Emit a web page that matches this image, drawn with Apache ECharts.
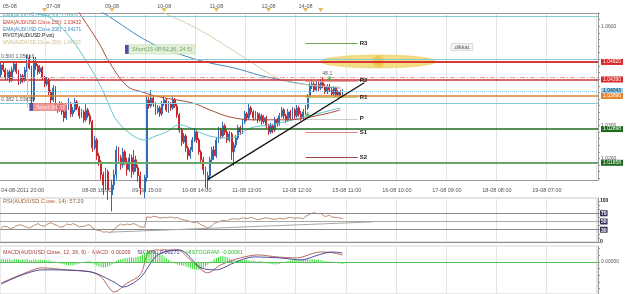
<!DOCTYPE html>
<html>
<head>
<meta charset="utf-8">
<script src="https://cdn.jsdelivr.net/npm/echarts@6/dist/echarts.min.js"></script>
<style>
  html, body { margin: 0; padding: 0; background: #fff; }
  #main { width: 625px; height: 294px; }
</style>
</head>
<body>
<div id="main"></div>
<script>
// hourly slots, slot 0 = 04-08-2011 20:00
const slotCount = 275;
const bottomLabels = {0: '04-08-2011 20:00', 44: '08-08 16:00', 67: '09-08 15:00', 90: '10-08 14:00',
  113: '11-08 13:00', 136: '12-08 12:00', 159: '15-08 11:00', 182: '16-08 10:00',
  205: '17-08 09:00', 228: '18-08 08:00', 251: '19-08 07:00'};
const dayLabels = {4: '05-08', 24: '07-08', 51: '09-08', 75: '10-08', 99: '11-08', 123: '12-08', 140: '14-08'};
const dayMarks = [20, 51, 75, 99, 123, 140, 147];

// AUD/USD hourly candles (open = previous close)
const firstOpen = 1.0453;
const closes = [
  1.0483,1.0468,1.0444,1.0462,1.0438,1.0468,1.0486,1.0462,1.0432,1.0450,
  1.0438,1.0468,1.0504,1.0474,1.0377,1.0492,1.0480,1.0462,1.0474,1.0444,
  1.0425,1.0438,1.0401,1.0377,1.0413,1.0359,1.0347,1.0365,1.0341,1.0323,
  1.0353,1.0365,1.0335,1.0347,1.0371,1.0353,1.0329,1.0341,1.0317,1.0347,
  1.0329,1.0311,1.0232,1.0256,1.0208,1.0190,1.0151,1.0120,1.0160,1.0105,
  1.0090,1.0120,1.0151,1.0226,1.0202,1.0181,1.0220,1.0190,1.0166,1.0202,
  1.0160,1.0196,1.0172,1.0148,1.0111,1.0099,1.0142,1.0377,1.0359,1.0383,
  1.0365,1.0341,1.0353,1.0335,1.0365,1.0377,1.0347,1.0365,1.0353,1.0377,
  1.0359,1.0332,1.0286,1.0250,1.0268,1.0232,1.0208,1.0226,1.0256,1.0280,
  1.0256,1.0220,1.0196,1.0166,1.0136,1.0148,1.0196,1.0226,1.0208,1.0256,
  1.0286,1.0268,1.0299,1.0280,1.0256,1.0274,1.0220,1.0241,1.0262,1.0293,
  1.0280,1.0311,1.0335,1.0323,1.0353,1.0341,1.0323,1.0335,1.0317,1.0329,
  1.0311,1.0323,1.0299,1.0280,1.0299,1.0286,1.0317,1.0305,1.0329,1.0347,
  1.0329,1.0317,1.0341,1.0323,1.0347,1.0329,1.0353,1.0335,1.0323,1.0341,
  1.0353,1.0389,1.0419,1.0425,1.0407,1.0425,1.0413,1.0429,1.0419,1.0401,
  1.0419,1.0407,1.0395,1.0413,1.0392,1.0401,1.0389,1.0404
];
const highs = [
  1.0492,1.0489,1.0474,1.0468,1.0468,1.0477,1.0492,1.0492,1.0468,1.0456,
  1.0456,1.0477,1.0513,1.0513,1.0480,1.0507,1.0507,1.0486,1.0483,1.0480,
  1.0450,1.0447,1.0444,1.0407,1.0422,1.0419,1.0365,1.0374,1.0371,1.0347,
  1.0362,1.0383,1.0371,1.0356,1.0383,1.0377,1.0359,1.0350,1.0347,1.0368,
  1.0353,1.0338,1.0317,1.0268,1.0262,1.0217,1.0196,1.0160,1.0172,1.0166,
  1.0130,1.0136,1.0166,1.0238,1.0235,1.0211,1.0232,1.0226,1.0202,1.0214,
  1.0211,1.0226,1.0208,1.0181,1.0160,1.0130,1.0151,1.0389,1.0386,1.0407,
  1.0389,1.0371,1.0362,1.0359,1.0374,1.0389,1.0383,1.0374,1.0371,1.0386,
  1.0383,1.0365,1.0338,1.0293,1.0277,1.0274,1.0238,1.0235,1.0265,1.0293,
  1.0286,1.0262,1.0226,1.0205,1.0175,1.0160,1.0205,1.0235,1.0238,1.0265,
  1.0296,1.0293,1.0311,1.0305,1.0286,1.0283,1.0280,1.0250,1.0271,1.0302,
  1.0299,1.0320,1.0344,1.0341,1.0365,1.0359,1.0347,1.0344,1.0341,1.0338,
  1.0335,1.0332,1.0329,1.0305,1.0308,1.0305,1.0326,1.0323,1.0338,1.0356,
  1.0353,1.0335,1.0350,1.0347,1.0356,1.0353,1.0362,1.0359,1.0344,1.0350,
  1.0362,1.0395,1.0429,1.0438,1.0432,1.0435,1.0432,1.0438,1.0447,1.0425,
  1.0425,1.0425,1.0413,1.0419,1.0416,1.0407,1.0407,1.0410
];
const lows = [
  1.0444,1.0462,1.0438,1.0438,1.0429,1.0432,1.0462,1.0456,1.0422,1.0425,
  1.0429,1.0432,1.0462,1.0468,1.0365,1.0371,1.0468,1.0453,1.0456,1.0438,
  1.0416,1.0419,1.0392,1.0368,1.0371,1.0350,1.0338,1.0341,1.0332,1.0311,
  1.0317,1.0347,1.0326,1.0326,1.0341,1.0347,1.0320,1.0323,1.0308,1.0311,
  1.0323,1.0302,1.0220,1.0226,1.0196,1.0178,1.0136,1.0090,1.0105,1.0075,
  1.0030,1.0040,1.0105,1.0136,1.0190,1.0166,1.0172,1.0181,1.0148,1.0160,
  1.0142,1.0151,1.0160,1.0130,1.0090,1.0060,1.0080,1.0130,1.0350,1.0353,
  1.0356,1.0332,1.0335,1.0326,1.0329,1.0359,1.0341,1.0338,1.0344,1.0347,
  1.0353,1.0323,1.0277,1.0238,1.0244,1.0220,1.0196,1.0199,1.0220,1.0250,
  1.0247,1.0211,1.0184,1.0151,1.0111,1.0105,1.0136,1.0187,1.0196,1.0202,
  1.0247,1.0259,1.0262,1.0271,1.0247,1.0250,1.0196,1.0178,1.0232,1.0256,
  1.0271,1.0274,1.0305,1.0314,1.0317,1.0332,1.0314,1.0317,1.0308,1.0311,
  1.0302,1.0305,1.0290,1.0271,1.0274,1.0277,1.0280,1.0296,1.0299,1.0323,
  1.0320,1.0308,1.0311,1.0314,1.0317,1.0320,1.0323,1.0326,1.0314,1.0317,
  1.0332,1.0347,1.0383,1.0410,1.0401,1.0401,1.0404,1.0407,1.0413,1.0395,
  1.0395,1.0401,1.0389,1.0389,1.0386,1.0386,1.0383,1.0386
];

// moving averages [slot, price]
const ema50 = [[8,1.0665],[15,1.0640],[22,1.0628],[30,1.0580],[38,1.0507],[46,1.0416],[50,1.0356],[53,1.0317],
  [59,1.0277],[66,1.0256],[71,1.0268],[76,1.0280],[82,1.0302],[87,1.0293],[92,1.0277],[98,1.0265],
  [105,1.0262],[115,1.0293],[124,1.0302],[138,1.0323],[147,1.0338],[156,1.0353]];
const ema100 = [[30,1.0700],[36,1.0640],[45,1.0549],[50,1.0489],[58,1.0419],[65,1.0401],[73,1.0386],[88,1.0368],
  [96,1.0347],[105,1.0326],[116,1.0317],[132,1.0317],[147,1.0332],[156,1.0347]];
const ema200 = [[38,1.0670],[47,1.0640],[69,1.0549],[86,1.0507],[96,1.0489],[107,1.0474],[122,1.0447],[142,1.0422],[156,1.0413]];
const mva200 = [[66,1.0665],[75,1.0640],[92,1.0586],[110,1.0513],[127,1.0444],[138,1.0425],[156,1.0416]];

// RSI(14) [slot, value]
const rsi = [[0,34],[1,38],[3,37],[4,33],[6,35],[7,40],[9,42],[11,38],[12,36],[13,34],[15,40],[17,45],[18,41],
  [20,38],[21,43],[23,47],[24,44],[26,40],[27,36],[29,38],[30,44],[32,42],[33,45],[35,40],[36,37],[38,38],
  [40,42],[41,41],[42,34],[44,29],[46,27],[47,24],[49,25],[50,22],[52,30],[53,37],[55,44],[56,41],[58,44],
  [59,42],[61,45],[63,40],[64,37],[66,36],[67,61],[69,60],[70,63],[72,61],[73,58],[75,60],[76,59],[78,61],
  [80,58],[81,60],[83,55],[85,53],[87,50],[89,47],[90,49],[92,42],[94,37],[95,34],[97,40],[98,46],[100,49],
  [102,53],[104,51],[105,55],[107,57],[109,55],[111,59],[113,57],[115,60],[117,56],[118,54],[120,57],
  [122,59],[124,57],[126,55],[128,58],[130,56],[131,58],[133,60],[135,58],[137,59],[139,57],[140,62],
  [142,68],[144,72],[145,69],[147,70],[149,62],[151,65],[152,61],[154,60],[156,58],[157,57.29]];
const rsiLevels = [30, 50, 70];

// MACD(12,26,9)
const macd = [[0,-0.0064],[9,-0.0039],[19,-0.0018],[30,-0.0024],[41,-0.0030],[46,-0.0045],[52,-0.0091],
  [58,-0.0064],[64,-0.0039],[68,0.0030],[73,0.0036],[81,0.0036],[88,0.0000],[95,-0.0033],[101,-0.0009],
  [110,0.0012],[118,0.0021],[127,0.0015],[136,0.0012],[144,0.0027],[147,0.0030],[152,0.0028],[157,0.0021]];
const signal = [[0,-0.0067],[19,-0.0024],[41,-0.0030],[52,-0.0061],[56,-0.0076],[64,-0.0048],[72,0.0021],
  [82,0.0036],[92,-0.0018],[99,-0.0024],[107,-0.0003],[116,0.0015],[128,0.0012],[138,0.0006],[146,0.0021],
  [152,0.0030],[157,0.0027]];
const histogram = [
  0.0008,0.0009,0.0007,0.0008,0.0009,0.0006,0.0008,0.0009,0.0007,0.0006,
  0.0008,0.0007,0.0009,0.0006,0.0005,0.0007,0.0008,0.0006,0.0007,0.0005,
  0.0006,0.0004,0.0005,0.0003,0.0002,0.0001,-0.0002,-0.0004,-0.0006,-0.0008,
  -0.0009,-0.0010,-0.0011,-0.0010,-0.0009,-0.0007,-0.0005,-0.0003,-0.0001,0.0002,
  0.0003,0.0002,-0.0004,-0.0008,-0.0011,-0.0014,-0.0016,-0.0018,-0.0017,-0.0015,
  -0.0012,-0.0008,-0.0003,0.0003,0.0006,0.0008,0.0010,0.0012,0.0011,0.0013,
  0.0014,0.0012,0.0015,0.0016,0.0018,0.0022,0.0026,0.0031,0.0034,0.0036,
  0.0035,0.0033,0.0030,0.0026,0.0021,0.0016,0.0011,0.0006,0.0002,-0.0002,
  -0.0005,-0.0008,-0.0010,-0.0011,-0.0012,-0.0014,-0.0016,-0.0019,-0.0021,-0.0023,
  -0.0024,-0.0023,-0.0021,-0.0018,-0.0014,-0.0009,-0.0004,0.0002,0.0008,0.0012,
  0.0015,0.0017,0.0018,0.0016,0.0013,0.0010,0.0007,0.0005,0.0004,0.0006,
  0.0005,0.0004,0.0006,0.0007,0.0005,0.0003,0.0004,0.0002,0.0001,0.0003,
  0.0002,-0.0001,-0.0003,-0.0005,-0.0006,-0.0007,-0.0008,-0.0007,-0.0006,-0.0004,
  -0.0002,0.0001,0.0003,0.0004,0.0005,0.0006,0.0005,0.0007,0.0006,0.0008,
  0.0009,0.0008,0.0007,0.0009,0.0008,0.0006,0.0007,0.0005,0.0004,0.0003,
  0.0002,0.0001,-0.0001,-0.0002,-0.0003,-0.0004,-0.0005,-0.0006
];

// horizontal levels: [price, label, color, width, type, labelBg, labelColor]
const levels = [
  [1.0631, '', '#86cbd3', 1, 'solid'],
  [1.0499, '', '#86cbd3', 1, 'solid'],
  [1.0492, '1.04920', '#d63a33', 2, 'solid', '#d8282c', '#fff'],
  [1.0447, '', '#e6a0a0', 1, [5, 2, 1, 2]],
  [1.0439, '1.04390', '#c93232', 1.5, 'solid', '#d8282c', '#fff'],
  [1.04043, '1.04043', '#8cc4e6', 1, 'dotted', '#92d3f2', '#123'],
  [1.0389, '1.03890', '#d9822f', 1.5, 'solid', '#e8852c', '#fff'],
  [1.0366, '', '#86cbd3', 1, 'solid'],
  [1.0289, '1.02898', '#1f6a1f', 1.5, 'solid', '#1f6a1f', '#fff'],
  [1.0187, '1.01858', '#69a869', 2, 'solid', '#1f6a1f', '#fff']
];
// pivot levels for the current day: [name, price, color]
const pivotStart = 140, pivotEnd = 164;
const pivots = [['R3', 1.0549, '#6aaa55'], ['R2', 1.0435, '#e8a0a0'], ['R1', 1.0386, '#b9cc6a'],
  ['P', 1.0320, '#cccccc'], ['S1', 1.0280, '#e08080'], ['S2', 1.0205, '#a04545']];
const trendLine = [[95, 1.0136], [167, 1.0429]];
const fibVertical = [[12, 1.0513], [12, 1.0353]];
const highlightBox = [147, 200, 1.0513, 1.0474];
const rsiTrend = [[50, 24], [171, 49]];

const legendLines = [
  ['EMA(AUD/USD.Close,50): 1.03932', '#3aa6b2'],
  ['EMA(AUD/USD.Close,100): 1.03432', '#c0392b'],
  ['EMA(AUD/USD.Close,200): 1.04171', '#3a85c0'],
  ['PIVOT(AUD/USD,Pivot)', '#111'],
  ['MVA(AUD/USD.Close,200): 1.04163', '#c9bd86']
];

const slots = Array.from({length: slotCount}, (_, i) => String(i));
const candles = closes.map((c, i) => [i ? closes[i - 1] : firstOpen, c, lows[i], highs[i]]);
const gridLine = i => i >= 21 && (i - 21) % 23 === 0;
const priceTicks = Array.from({length: 26}, (_, k) => +(1.014 + k * 0.002).toFixed(3));

const chart = echarts.init(document.getElementById('main'));

const levelLines = levels.map(l => ({
  yAxis: l[0],
  lineStyle: {color: l[2], width: l[3], type: l[4]},
  label: l[1] ? {show: true, position: 'end', distance: 3, formatter: l[1], fontSize: 5,
    color: l[6], backgroundColor: l[5], padding: [1, 2, 0, 2]} : {show: false}
}));
const pivotLines = pivots.map(p => [
  {coord: [pivotStart, p[1]], lineStyle: {color: p[2], width: 1.2, type: 'solid'},
    label: {show: true, position: 'end', distance: 2, formatter: p[0], fontSize: 6, fontWeight: 'bold',
      color: '#222', padding: [6, 0, 0, 0]}},
  {coord: [pivotEnd, p[1]]}
]);

const maSeries = (data, color) => ({
  type: 'line', xAxisIndex: 0, yAxisIndex: 0, data: data, smooth: 0.4, showSymbol: false,
  lineStyle: {color: color, width: 1}, z: 3, silent: true
});

const option = {
  animation: false,
  textStyle: {fontFamily: 'Liberation Sans'},
  grid: [
    {left: 0, right: 27, top: 13, height: 167, outerBoundsMode: 'none'},
    {left: 0, right: 27, top: 198, height: 44, show: true, borderColor: '#c8c8c8', borderWidth: 1, outerBoundsMode: 'none'},
    {left: 0, right: 27, top: 246, height: 48, show: true, borderColor: '#d8d8d8', borderWidth: 1, outerBoundsMode: 'none'}
  ],
  xAxis: [
    {type: 'category', gridIndex: 0, data: slots, boundaryGap: true,
      axisLine: {lineStyle: {color: '#999'}},
      axisTick: {interval: 4, length: 2, lineStyle: {color: '#999'}},
      axisLabel: {interval: i => bottomLabels[i] !== undefined, formatter: (v, i) => bottomLabels[i],
        fontSize: 5.5, color: '#555', margin: 7, alignMinLabel: 'left'},
      splitLine: {show: true, interval: gridLine, lineStyle: {color: '#e4e4e4'}}},
    {type: 'category', gridIndex: 0, data: slots, position: 'top', boundaryGap: true,
      axisLine: {lineStyle: {color: '#999'}},
      axisTick: {interval: 4, length: 3, lineStyle: {color: '#999'}},
      axisLabel: {interval: i => dayLabels[i] !== undefined, formatter: (v, i) => dayLabels[i],
        fontSize: 5.5, color: '#555', margin: 4},
      splitLine: {show: false}},
    {type: 'category', gridIndex: 1, data: slots, axisLine: {show: false}, axisTick: {show: false},
      axisLabel: {show: false}, splitLine: {show: true, interval: gridLine, lineStyle: {color: '#e4e4e4'}}},
    {type: 'category', gridIndex: 2, data: slots, axisLine: {show: false}, axisTick: {show: false},
      axisLabel: {show: false}, splitLine: {show: true, interval: gridLine, lineStyle: {color: '#e4e4e4'}}}
  ],
  yAxis: [
    {type: 'value', gridIndex: 0, position: 'right', min: 1.0135, max: 1.064, scale: true,
      axisLine: {show: true, lineStyle: {color: '#999'}},
      axisTick: {show: true, length: 2, customValues: priceTicks, lineStyle: {color: '#999'}},
      axisLabel: {customValues: [1.02, 1.03, 1.06], formatter: v => v.toFixed(4), fontSize: 5, color: '#555', margin: 3},
      splitLine: {show: false}},
    {type: 'value', gridIndex: 1, position: 'right', min: 0, max: 107.3,
      axisLine: {show: true, lineStyle: {color: '#999'}},
      axisTick: {show: true, length: 2, customValues: [0, 10, 20, 30, 40, 50, 60, 70, 80, 90, 100], lineStyle: {color: '#999'}},
      axisLabel: {customValues: [0, 30, 50, 70, 100], fontSize: 5, margin: 2, fontWeight: 'bold',
        formatter: v => rsiLevels.includes(v) ? '{b|' + v + '}' : '{n|' + v + '}',
        rich: {b: {backgroundColor: '#34345a', color: '#fff', fontSize: 5, padding: [1, 1, 0, 1], fontWeight: 'bold'},
          n: {color: '#222', fontSize: 5, fontWeight: 'bold'}}},
      splitLine: {show: false}},
    {type: 'value', gridIndex: 2, position: 'right', min: -0.0097, max: 0.0048,
      axisLine: {show: true, lineStyle: {color: '#999'}},
      axisTick: {show: true, length: 2, customValues: [-0.008, -0.006, -0.004, -0.002, 0, 0.002, 0.004], lineStyle: {color: '#999'}},
      axisLabel: {customValues: [0], formatter: v => v.toFixed(5), fontSize: 5, color: '#555', margin: 3},
      splitLine: {show: false}}
  ],
  graphic: legendLines.map((l, i) => ({
    type: 'text', left: 3, top: 13.5 + i * 6.7, silent: true,
    style: {text: l[0], fill: l[1], font: '4.8px "Liberation Sans"'}
  })).concat([
    {type: 'text', left: 3, top: 198.5, silent: true,
      style: {text: 'RSI(AUD/USD.Close, 14): 57.29', fill: '#a0603a', font: '5.6px "Liberation Sans"'}},
    {type: 'text', left: 3, top: 247, silent: true,
      style: {text: '{a|MACD(AUD/USD.Close, 12, 26, 9) -  MACD: 0.00209}  {b|SIGNAL: 0.00271}  {c|HISTOGRAM: -0.00061}',
        rich: {a: {fill: '#a0403a', font: '5.4px "Liberation Sans"'}, b: {fill: '#303080', font: '5.4px "Liberation Sans"'},
          c: {fill: '#33bb33', font: '5.4px "Liberation Sans"'}}}}
  ]),
  series: [
    {type: 'custom', xAxisIndex: 0, yAxisIndex: 0, z: 1, silent: true, data: [highlightBox],
      renderItem: (params, api) => {
        const a = api.coord([api.value(0), api.value(2)]);
        const b = api.coord([api.value(1), api.value(3)]);
        return {type: 'ellipse',
          shape: {cx: (a[0] + b[0]) / 2, cy: (a[1] + b[1]) / 2, rx: (b[0] - a[0]) / 2, ry: (b[1] - a[1]) / 2},
          style: {fill: new echarts.graphic.RadialGradient(0.5, 0.5, 0.5,
            [{offset: 0, color: '#eabb2e'}, {offset: 0.75, color: '#efcb55'}, {offset: 1, color: '#f4dc86'}]),
            stroke: '#e8c650', lineWidth: 0.5}};
      }},
    {type: 'candlestick', xAxisIndex: 0, yAxisIndex: 0, data: candles, barWidth: 1.4, clip: true,
      itemStyle: {color: '#2f6db5', color0: '#c8282b', borderColor: '#2f6db5', borderColor0: '#c8282b', borderWidth: 1},
      markLine: {symbol: ['none', 'none'], silent: true, precision: 6, label: {show: false},
        data: levelLines.concat(pivotLines).concat([
          [{coord: trendLine[0], lineStyle: {color: '#111', width: 1.3, type: 'solid'}}, {coord: trendLine[1]}],
          [{coord: fibVertical[0], lineStyle: {color: '#f0b4b4', width: 1, type: 'solid'}}, {coord: fibVertical[1]}]
        ])}},
    maSeries(ema50, '#5ec2cc'),
    maSeries(ema100, '#a84a3c'),
    maSeries(ema200, '#3e8ac4'),
    maSeries(mva200, '#d6cda4'),
    {type: 'scatter', xAxisIndex: 0, yAxisIndex: 0, clip: false, silent: true, z: 5,
      symbol: 'triangle', symbolRotate: 180, symbolSize: [5, 4], symbolOffset: [0, -3],
      itemStyle: {color: '#e6a030'}, data: dayMarks.map(s => [s, 1.064])},
    {type: 'scatter', xAxisIndex: 0, yAxisIndex: 0, clip: false, silent: true, z: 6,
      symbol: 'triangle', symbolSize: 5, itemStyle: {color: '#4cb03a'},
      data: [[151, 1.0444], [141, 1.0335]]},
    {type: 'scatter', xAxisIndex: 0, yAxisIndex: 0, clip: false, silent: true, z: 7, symbolSize: 0,
      label: {show: true, fontSize: 5, color: '#333'},
      data: [
        {value: [13, 1.0356], label: {position: 'right', distance: 0, formatter: '{sq|}{t|Stop(-34.3)}',
          rich: {sq: {width: 4, height: 8, backgroundColor: '#23238c'},
            t: {backgroundColor: '#f07c7c', color: '#fff', padding: [1, 3, 0, 3], fontSize: 5.5, height: 7}}}},
        {value: [57, 1.0530], label: {position: 'right', distance: 0, formatter: '{sq|}{t|Short(15-08 02:36, 24.5)}',
          rich: {sq: {width: 4, height: 9, backgroundColor: '#23238c'},
            t: {backgroundColor: '#d9eecb', color: '#5f8a55', padding: [1, 3, 0, 3], fontSize: 5.5, height: 8,
              borderColor: '#bcd9ac', borderWidth: 0.5}}}},
        {value: [207, 1.0537], label: {position: 'right', distance: 0, formatter: '.dikkat.',
          backgroundColor: '#efefef', borderColor: '#c4c4c4', borderWidth: 0.5, padding: [1, 2, 0, 2], fontSize: 5.5}},
        {value: [0, 1.0507], label: {position: 'right', distance: 0, formatter: '0.500 1.05016', fontSize: 5.2}},
        {value: [0, 1.0377], label: {position: 'right', distance: 0, formatter: '0.382 1.03658', fontSize: 5.2}},
        {value: [150, 1.0458], label: {position: 'inside', formatter: '48.1', fontSize: 5.2}}
      ]},
    {type: 'line', xAxisIndex: 2, yAxisIndex: 1, data: rsi, showSymbol: false, silent: true,
      lineStyle: {color: '#a8704c', width: 0.8},
      markLine: {symbol: ['none', 'none'], silent: true, precision: 4, label: {show: false},
        data: rsiLevels.map(v => ({yAxis: v, lineStyle: {color: v === 50 ? '#a8a8a8' : '#8a8a8a', width: 1, type: 'solid'}}))
          .concat([{yAxis: 0, lineStyle: {color: '#8a8a8a', width: 1, type: 'solid'}},
            [{coord: rsiTrend[0], lineStyle: {color: '#a6a6a6', width: 1, type: 'solid'}}, {coord: rsiTrend[1]}]])}},
    {type: 'bar', xAxisIndex: 3, yAxisIndex: 2, data: histogram, barWidth: 1, silent: true,
      itemStyle: {color: '#2fdc2f'},
      markLine: {symbol: ['none', 'none'], silent: true, precision: 6, label: {show: false},
        data: [{yAxis: 0, lineStyle: {color: '#55c455', width: 1, type: 'solid'}}]}},
    {type: 'line', xAxisIndex: 3, yAxisIndex: 2, data: macd, smooth: 0.3, showSymbol: false, silent: true,
      lineStyle: {color: '#b0584c', width: 0.9}},
    {type: 'line', xAxisIndex: 3, yAxisIndex: 2, data: signal, smooth: 0.3, showSymbol: false, silent: true,
      lineStyle: {color: '#3a3a90', width: 0.9}}
  ]
};
chart.setOption(option);
</script>
</body>
</html>
